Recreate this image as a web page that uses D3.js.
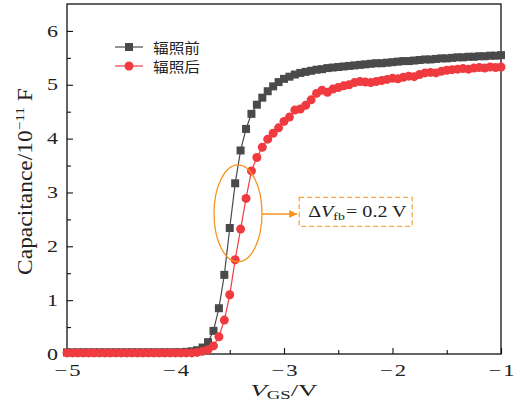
<!DOCTYPE html>
<html>
<head>
<meta charset="utf-8">
<script src="https://cdn.jsdelivr.net/npm/d3@7"></script>
<style>
  body { margin: 0; background: #fff; }
  svg { display: block; }
  .axis text { font-family: "Liberation Serif", serif; font-size: 16px; fill: #222; }
  .axis path, .axis line { stroke: #111; stroke-width: 1.1; }
</style>
</head>
<body>
<svg id="chart"></svg>
<script>
// gate voltage (V), 0.05 V steps
var voltage = [
  -5.00, -4.95, -4.90, -4.85, -4.80, -4.75, -4.70, -4.65, -4.60, -4.55,
  -4.50, -4.45, -4.40, -4.35, -4.30, -4.25, -4.20, -4.15, -4.10, -4.05,
  -4.00, -3.95, -3.90, -3.85, -3.80, -3.75, -3.70, -3.65, -3.60, -3.55,
  -3.50, -3.45, -3.40, -3.35, -3.30, -3.25, -3.20, -3.15, -3.10, -3.05,
  -3.00, -2.95, -2.90, -2.85, -2.80, -2.75, -2.70, -2.65, -2.60, -2.55,
  -2.50, -2.45, -2.40, -2.35, -2.30, -2.25, -2.20, -2.15, -2.10, -2.05,
  -2.00, -1.95, -1.90, -1.85, -1.80, -1.75, -1.70, -1.65, -1.60, -1.55,
  -1.50, -1.45, -1.40, -1.35, -1.30, -1.25, -1.20, -1.15, -1.10, -1.05,
  -1.00
];

// before irradiation (10^-11 F)
var capBefore = [
  0.03, 0.03, 0.03, 0.03, 0.03, 0.03, 0.03, 0.03, 0.03, 0.03,
  0.03, 0.03, 0.03, 0.03, 0.03, 0.03, 0.03, 0.03, 0.03, 0.03,
  0.03, 0.03, 0.04, 0.05, 0.07, 0.12, 0.22, 0.43, 0.85, 1.47,
  2.34, 3.17, 3.78, 4.18, 4.46, 4.63, 4.76, 4.88, 4.97, 5.05,
  5.11, 5.15, 5.19, 5.22, 5.24, 5.26, 5.28, 5.29, 5.31, 5.32,
  5.33, 5.34, 5.35, 5.36, 5.37, 5.38, 5.39, 5.40, 5.40, 5.41,
  5.42, 5.43, 5.44, 5.44, 5.45, 5.46, 5.47, 5.47, 5.48, 5.49,
  5.49, 5.50, 5.51, 5.51, 5.52, 5.52, 5.53, 5.53, 5.54, 5.54,
  5.55
];

// after irradiation (10^-11 F)
var capAfter = [
  0.02, 0.02, 0.02, 0.02, 0.02, 0.02, 0.02, 0.02, 0.02, 0.02,
  0.02, 0.02, 0.02, 0.02, 0.02, 0.02, 0.02, 0.02, 0.02, 0.02,
  0.02, 0.02, 0.02, 0.02, 0.03, 0.05, 0.08, 0.15, 0.32, 0.63,
  1.10, 1.75, 2.32, 2.89, 3.40, 3.65, 3.84, 3.99, 4.10, 4.20,
  4.32, 4.40, 4.53, 4.55, 4.62, 4.72, 4.84, 4.90, 4.86, 4.92,
  4.95, 4.98, 5.00, 5.04, 5.06, 5.05, 5.04, 5.06, 5.08, 5.10,
  5.12, 5.11, 5.14, 5.16, 5.15, 5.19, 5.22, 5.23, 5.22, 5.25,
  5.27, 5.28, 5.29, 5.30, 5.29, 5.31, 5.32, 5.31, 5.33, 5.32,
  5.33
];

var xMajor = [-5, -4, -3, -2, -1];
var xMinor = [-4.5, -3.5, -2.5, -1.5];
var yMajor = [0, 1, 2, 3, 4, 5, 6];
var yMinor = [0.5, 1.5, 2.5, 3.5, 4.5, 5.5];

var seriesNames = ["辐照前", "辐照后"];
var seriesColors = ["#4a4a4a", "#ef3b40"];
var annotation = "= 0.2 V";

var screen = {width: 519, height: 414};
var margins = {left: 67, right: 18, top: 4, bottom: 60};
var graph = {
  width: screen.width - margins.left - margins.right,
  height: screen.height - margins.top - margins.bottom
};

// stretch a text sideways so that it spans the wanted width
var fitWidth = function(node, want) {
  var s = want / node.getBBox().width;
  var x0 = +node.getAttribute("x") || 0;
  d3.select(node)
    .attr("x", x0 / s)
    .attr("transform", "scale(" + s + ",1)");
};

var svg = d3.select("#chart")
  .attr("width", screen.width)
  .attr("height", screen.height);

var target = svg.append("g")
  .attr("transform", "translate(" + margins.left + "," + margins.top + ")");

var xScale = d3.scaleLinear().domain([-5, -1]).range([0, graph.width]);
var yScale = d3.scaleLinear().domain([0, 6.5]).range([graph.height, 0]);

var tickText = function(d) { return d < 0 ? "\u2212\u200a" + Math.abs(d) : "" + d; };

// axes, ticks pointing inward
var xAxisG = target.append("g")
  .attr("class", "axis")
  .attr("transform", "translate(0," + graph.height + ")")
  .call(d3.axisBottom(xScale).tickValues(xMajor).tickSize(-6).tickPadding(10.5).tickFormat(tickText));
target.append("g")
  .attr("class", "axis")
  .attr("transform", "translate(0," + graph.height + ")")
  .call(d3.axisBottom(xScale).tickValues(xMinor).tickSize(-4).tickFormat(""));
var yAxisG = target.append("g")
  .attr("class", "axis")
  .call(d3.axisLeft(yScale).tickValues(yMajor).tickSize(-6).tickPadding(9).tickFormat(tickText));
target.append("g")
  .attr("class", "axis")
  .call(d3.axisLeft(yScale).tickValues(yMinor).tickSize(-4).tickFormat(""));

target.selectAll(".axis .domain").remove();
xAxisG.selectAll("text").each(function() { fitWidth(this, 26); });
yAxisG.selectAll("text").each(function() { fitWidth(this, 11); });

target.append("rect")
  .attr("width", graph.width)
  .attr("height", graph.height)
  .attr("fill", "none")
  .attr("stroke", "#111")
  .attr("stroke-width", 1.3);

// lines and markers
var pts = function(vals) {
  return voltage.map(function(v, i) { return {v: v, c: vals[i]}; });
};
var line = d3.line()
  .x(function(d) { return xScale(d.v); })
  .y(function(d) { return yScale(d.c); });

var before = pts(capBefore);
var after = pts(capAfter);

target.append("path").datum(before)
  .attr("fill", "none").attr("stroke", seriesColors[0]).attr("stroke-width", 1.2)
  .attr("d", line);
target.append("g").selectAll("rect")
  .data(before).enter().append("rect")
  .attr("x", function(d) { return xScale(d.v) - 4; })
  .attr("y", function(d) { return yScale(d.c) - 4; })
  .attr("width", 8).attr("height", 8)
  .attr("fill", seriesColors[0]);

target.append("path").datum(after)
  .attr("fill", "none").attr("stroke", seriesColors[1]).attr("stroke-width", 1.2)
  .attr("d", line);
target.append("g").selectAll("circle")
  .data(after).enter().append("circle")
  .attr("cx", function(d) { return xScale(d.v); })
  .attr("cy", function(d) { return yScale(d.c); })
  .attr("r", 4.5)
  .attr("fill", seriesColors[1]);

// annotation: ellipse, arrow, dashed box
var orange = "#f7931e";
svg.append("defs").append("marker")
  .attr("id", "arrow")
  .attr("viewBox", "0 0 10 10")
  .attr("refX", 10).attr("refY", 5)
  .attr("markerWidth", 8).attr("markerHeight", 8)
  .attr("markerUnits", "userSpaceOnUse")
  .attr("orient", "auto")
  .append("path").attr("d", "M0,0L10,5L0,10Z").attr("fill", orange);

var ellCx = xScale(-3.424), ellCy = yScale(2.61);
target.append("ellipse")
  .attr("cx", ellCx).attr("cy", ellCy)
  .attr("rx", 24).attr("ry", 48.5)
  .attr("fill", "none").attr("stroke", orange).attr("stroke-width", 1.3);

var boxX = xScale(-2.86), boxY = yScale(2.91);
target.append("line")
  .attr("x1", ellCx + 24).attr("y1", yScale(2.6))
  .attr("x2", boxX - 2).attr("y2", yScale(2.6))
  .attr("stroke", orange).attr("stroke-width", 1.3)
  .attr("marker-end", "url(#arrow)");
target.append("rect")
  .attr("x", boxX).attr("y", boxY)
  .attr("width", 113).attr("height", 29)
  .attr("fill", "none").attr("stroke", "#f6a648")
  .attr("stroke-width", 1.3).attr("stroke-dasharray", "5,3");

var ann = target.append("text")
  .attr("x", boxX + 9).attr("y", boxY + 20)
  .style("font-family", "Liberation Serif, serif").style("font-size", "16px").attr("fill", "#222");
ann.append("tspan").text("Δ");
ann.append("tspan").style("font-style", "italic").text("V");
ann.append("tspan").attr("dy", 3).style("font-size", "11px").text("fb");
ann.append("tspan").attr("dy", -3).attr("dx", 1).text(annotation);
fitWidth(ann.node(), 99);

// legend
var legend = target.append("g")
  .attr("transform", "translate(" + (115 - margins.left) + "," + (47 - margins.top) + ")");
var entries = legend.selectAll("g")
  .data(seriesNames).enter().append("g")
  .attr("transform", function(d, i) { return "translate(0," + i * 19 + ")"; });
entries.append("line")
  .attr("x1", 0).attr("x2", 28)
  .attr("stroke", function(d, i) { return seriesColors[i]; }).attr("stroke-width", 1.2);
entries.filter(function(d, i) { return i === 0; }).append("rect")
  .attr("x", 10).attr("y", -4).attr("width", 8).attr("height", 8).attr("fill", seriesColors[0]);
entries.filter(function(d, i) { return i === 1; }).append("circle")
  .attr("cx", 14).attr("r", 4.5).attr("fill", seriesColors[1]);
entries.append("text")
  .attr("x", 38).attr("y", 5.5)
  .style("font-family", "Noto Sans CJK SC, sans-serif").style("font-size", "14px").attr("fill", "#222")
  .text(function(d) { return d; })
  .each(function() { fitWidth(this, 47); });

// axis titles
var xt = svg.append("text")
  .attr("x", margins.left + graph.width / 2).attr("y", 396)
  .attr("text-anchor", "middle")
  .style("font-family", "Liberation Serif, serif").style("font-size", "17px").attr("fill", "#222");
xt.append("tspan").style("font-style", "italic").text("V");
xt.append("tspan").attr("dy", 3).style("font-size", "12px").text("GS");
xt.append("tspan").attr("dy", -3).text("/V");
fitWidth(xt.node(), 68);

var yt = svg.append("g")
  .attr("transform", "translate(32,181.5) rotate(-90)")
  .append("text")
  .attr("text-anchor", "middle")
  .style("font-family", "Liberation Serif, serif").style("font-size", "20px").attr("fill", "#222");
yt.append("tspan").text("Capacitance/10");
yt.append("tspan").attr("dy", -8).style("font-size", "13px").text("−11");
yt.append("tspan").attr("dy", 8).text(" F");
fitWidth(yt.node(), 187);
</script>
</body>
</html>
